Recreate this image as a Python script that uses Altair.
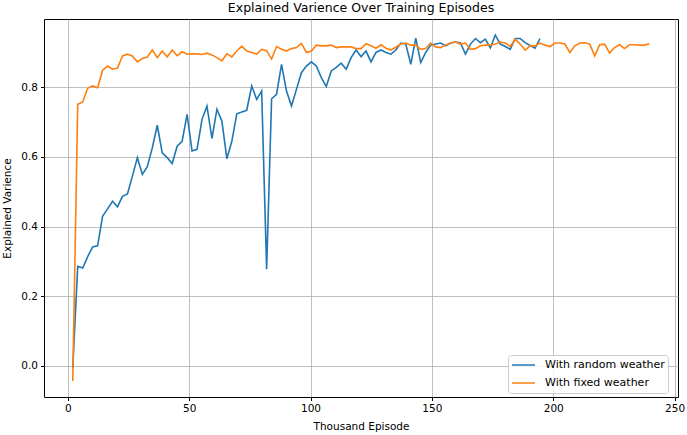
import altair as alt
import pandas as pd

LOG_INTERVAL = 2.048  # thousand episodes between logged points

random_weather = [
    -0.005, 0.286, 0.281, 0.314, 0.342, 0.345, 0.430, 0.451, 0.473, 0.457,
    0.487, 0.494, 0.545, 0.598, 0.550, 0.572, 0.626, 0.691, 0.612, 0.598,
    0.581, 0.631, 0.645, 0.722, 0.617, 0.622, 0.708, 0.746, 0.653, 0.737,
    0.703, 0.595, 0.645, 0.724, 0.729, 0.734, 0.804, 0.765, 0.789, 0.278,
    0.767, 0.780, 0.866, 0.789, 0.746, 0.794, 0.842, 0.861, 0.873, 0.861,
    0.828, 0.802, 0.847, 0.857, 0.869, 0.852, 0.885, 0.907, 0.888, 0.904,
    0.873, 0.900, 0.907, 0.900, 0.895, 0.907, 0.927, 0.924, 0.866, 0.941,
    0.871, 0.900, 0.921, 0.924, 0.927, 0.919, 0.927, 0.930, 0.927, 0.895,
    0.924, 0.940, 0.928, 0.938, 0.913, 0.950, 0.924, 0.917, 0.909, 0.940,
    0.940, 0.928, 0.920, 0.912, 0.940,
]

fixed_weather = [
    -0.043, 0.751, 0.758, 0.797, 0.804, 0.799, 0.849, 0.861, 0.852, 0.855,
    0.890, 0.895, 0.890, 0.873, 0.883, 0.887, 0.907, 0.885, 0.904, 0.887,
    0.907, 0.891, 0.902, 0.895, 0.896, 0.896, 0.894, 0.898, 0.893, 0.885,
    0.876, 0.896, 0.887, 0.904, 0.918, 0.904, 0.900, 0.895, 0.909, 0.905,
    0.881, 0.917, 0.909, 0.904, 0.911, 0.914, 0.926, 0.900, 0.904, 0.921,
    0.919, 0.919, 0.921, 0.914, 0.916, 0.916, 0.916, 0.911, 0.911, 0.925,
    0.919, 0.912, 0.922, 0.912, 0.907, 0.915, 0.924, 0.927, 0.921, 0.921,
    0.909, 0.911, 0.927, 0.916, 0.914, 0.921, 0.927, 0.930, 0.924, 0.927,
    0.909, 0.911, 0.919, 0.921, 0.921, 0.924, 0.930, 0.927, 0.917, 0.938,
    0.924, 0.907, 0.919, 0.919, 0.927, 0.921, 0.917, 0.927, 0.927, 0.924,
    0.900, 0.919, 0.927, 0.928, 0.924, 0.890, 0.922, 0.924, 0.898, 0.914,
    0.922, 0.911, 0.922, 0.922, 0.921, 0.921, 0.925,
]

series_names = ["With random weather", "With fixed weather"]
series_colors = ["#1f77b4", "#ff7f0e"]
x_ticks = [0, 50, 100, 150, 200, 250]
y_ticks = [0.0, 0.2, 0.4, 0.6, 0.8]

rows = []
for name, vals in zip(series_names, [random_weather, fixed_weather]):
    for i, v in enumerate(vals, start=1):
        rows.append({"episode": round(i * LOG_INTERVAL, 3), "ev": v, "series": name})
df = pd.DataFrame(rows)

FONT = "DejaVu Sans"

x_enc = alt.X(
    "episode:Q",
    scale=alt.Scale(domain=[-9.8, 251.4], nice=False, zero=False),
    axis=alt.Axis(values=x_ticks, format="d", title="Thousand Episode"),
)
y_enc = alt.Y(
    "ev:Q",
    scale=alt.Scale(domain=[-0.089, 0.996], nice=False, zero=False),
    axis=alt.Axis(values=y_ticks, format=".1f", title="Explained Varience"),
)
color_enc = alt.Color(
    "series:N",
    scale=alt.Scale(domain=series_names, range=series_colors),
    legend=alt.Legend(
        title=None,
        orient="none",
        legendX=464,
        legendY=336,
        symbolType="M-1,0L1,0",
        symbolStrokeWidth=1.6,
        symbolSize=529,
        clipHeight=14,
        labelFontSize=11,
        labelFont=FONT,
        labelColor="black",
        labelOffset=9,
        rowPadding=4,
        padding=3,
        fillColor="rgba(255,255,255,0.8)",
        strokeColor="#cccccc",
        cornerRadius=3,
    ),
)

layers = []
for name in series_names:
    layers.append(
        alt.Chart(df)
        .transform_filter(alt.datum.series == name)
        .mark_line(strokeWidth=1.6)
        .encode(x=x_enc, y=y_enc, color=color_enc, order="episode:Q")
    )

chart = (
    alt.layer(*layers)
    .properties(
        width=634,
        height=378,
        autosize=alt.AutoSizeParams(type="none"),
        padding={"left": 44, "top": 19, "right": 9, "bottom": 38},
        title=alt.TitleParams(
            "Explained Varience Over Training Episodes",
            font=FONT,
            fontSize=12.5,
            fontWeight="normal",
            color="black",
            offset=5,
        ),
    )
    .configure_view(stroke="black", strokeWidth=1)
    .configure_axis(
        grid=True,
        gridColor="#b0b0b0",
        gridWidth=0.8,
        domain=False,
        tickColor="black",
        tickSize=3.5,
        labelFont=FONT,
        labelFontSize=10.5,
        labelColor="black",
        titleFont=FONT,
        titleFontSize=10.5,
        titleFontWeight="normal",
        titleColor="black",
    )
    .configure_axisX(labelPadding=3, titlePadding=7)
    .configure_axisY(labelPadding=3, titlePadding=8)
)

chart.save("out.html", embed_options={"renderer": "svg", "actions": False})
